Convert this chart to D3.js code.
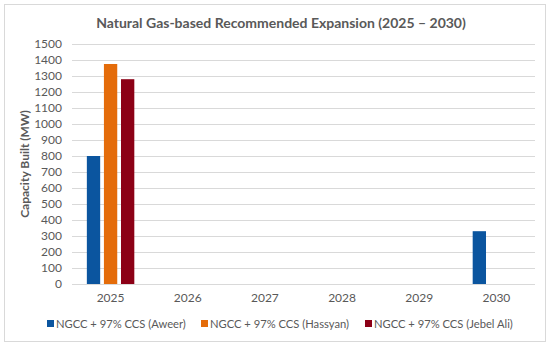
<!DOCTYPE html>
<html>
<head>
<meta charset="utf-8">
<script src="https://cdn.jsdelivr.net/npm/d3@7"></script>
<style>
  html, body { margin: 0; padding: 0; background: #ffffff; }
  svg { display: block; font-family: Lato, "Open Sans", sans-serif; }
</style>
</head>
<body>
<svg id="chart" width="550" height="347"></svg>
<script>
const title = "Natural Gas-based Recommended Expansion (2025 \u2013 2030)";
const yAxisTitle = "Capacity Built (MW)";
const years = ["2025", "2026", "2027", "2028", "2029", "2030"];
const seriesNames = ["NGCC + 97% CCS (Aweer)", "NGCC + 97% CCS (Hassyan)", "NGCC + 97% CCS (Jebel Ali)"];
const seriesColors = ["#0b559f", "#e46c0a", "#8c0016"];
const aweer    = [800, 0, 0, 0, 0, 330];
const hassyan  = [1375, 0, 0, 0, 0, 0];
const jebelAli = [1280, 0, 0, 0, 0, 0];
const yTicks = [0, 100, 200, 300, 400, 500, 600, 700, 800, 900, 1000, 1100, 1200, 1300, 1400, 1500];

const seriesValues = [aweer, hassyan, jebelAli];
const svg = d3.select("#chart");

// outer chart border
svg.append("rect").attr("x", 4.5).attr("y", 4.5).attr("width", 541).attr("height", 337)
  .attr("fill", "#fff").attr("stroke", "#d9d9d9").attr("stroke-width", 1);

const plot = { left: 72, right: 535, top: 44, bottom: 284 };

const x0 = d3.scaleBand().domain(years).range([plot.left, plot.right]).paddingInner(0).paddingOuter(0);
const x1 = d3.scaleBand().domain(seriesNames).range([0, x0.bandwidth()]).paddingInner(0.22).paddingOuter(0.87);
const y = d3.scaleLinear().domain([0, 1500]).range([plot.bottom, plot.top]);

// gridlines
svg.append("g").selectAll("line").data(yTicks).join("line")
  .attr("x1", plot.left).attr("x2", plot.right)
  .attr("y1", d => Math.round(y(d)) + 0.5).attr("y2", d => Math.round(y(d)) + 0.5)
  .attr("stroke", "#d9d9d9").attr("stroke-width", 1);

// y axis labels
const yAxis = d3.axisLeft(y).tickValues(yTicks).tickFormat(d3.format("d")).tickSize(0).tickPadding(0);
const gy = svg.append("g").attr("transform", `translate(${plot.left - 10},0)`).call(yAxis);
gy.select(".domain").remove();
gy.selectAll("text").attr("fill", "#595959").style("font-size", "12px").style("font-family", "Lato, sans-serif");

// bars
const data = [];
years.forEach((yr, i) => {
  seriesNames.forEach((s, j) => {
    data.push({ year: yr, series: s, value: seriesValues[j][i], color: seriesColors[j] });
  });
});
svg.append("g").selectAll("rect").data(data.filter(d => d.value > 0)).join("rect")
  .attr("x", d => x0(d.year) + x1(d.series))
  .attr("width", x1.bandwidth())
  .attr("y", d => y(d.value))
  .attr("height", d => y(0) - y(d.value))
  .attr("fill", d => d.color);

// x axis labels
const xAxis = d3.axisBottom(x0).tickSize(0).tickPadding(0);
const gx = svg.append("g").attr("transform", `translate(0,${plot.bottom + 18})`).call(xAxis);
gx.select(".domain").remove();
gx.selectAll("text").attr("fill", "#595959").attr("dy", "0").style("font-size", "12px").style("font-family", "Lato, sans-serif");

// title
svg.append("text").attr("x", 281).attr("y", 28).attr("text-anchor", "middle")
  .attr("fill", "#595959").style("font-size", "14px").style("font-weight", "bold")
  .text(title);

// y axis title
svg.append("text").attr("transform", `translate(29,${(plot.top + plot.bottom) / 2}) rotate(-90)`)
  .attr("text-anchor", "middle").attr("fill", "#595959")
  .style("font-size", "12px").style("font-weight", "bold").text(yAxisTitle);

// legend
const legendX = [47, 201, 365];
const lg = svg.append("g");
seriesNames.forEach((s, j) => {
  const g = lg.append("g").attr("transform", `translate(${legendX[j]},328)`);
  g.append("rect").attr("x", 0).attr("y", -8).attr("width", 7).attr("height", 7).attr("fill", seriesColors[j]);
  g.append("text").attr("x", 9).attr("y", 0).attr("fill", "#595959")
    .style("font-size", "11.2px").text(s);
});
</script>
</body>
</html>
